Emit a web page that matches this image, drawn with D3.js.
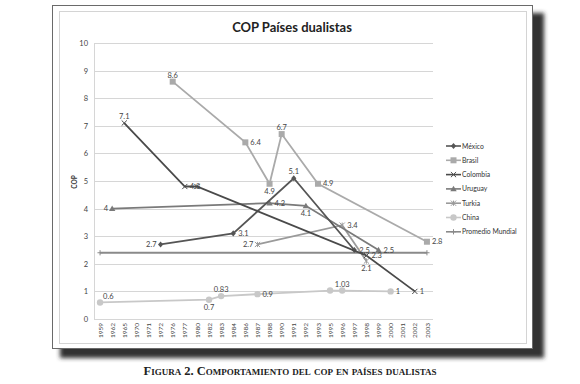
<!DOCTYPE html>
<html>
<head>
<meta charset="utf-8">
<script src="https://cdn.jsdelivr.net/npm/d3@7"></script>
<style>
  body { margin: 0; background: #fff; }
  svg { display: block; }
</style>
</head>
<body>
<div id="chart"></div>
<script>
// categorias del eje X
const years = ['1959','1962','1965','1970','1971','1972','1976','1977','1980','1982','1983','1984','1986','1987',
  '1988','1990','1991','1992','1993','1995','1996','1997','1998','1999','2000','2001','2002','2003'];
const yTicks = [0,1,2,3,4,5,6,7,8,9,10];

// series [año, valor]
const mexico   = [['1972',2.7],['1984',3.1],['1991',5.1],['1997',2.5]];
const brasil   = [['1976',8.6],['1986',6.4],['1988',4.9],['1990',6.7],['1993',4.9],['2003',2.8]];
const colombia = [['1965',7.1],['1977',4.8],['1980',4.8],['1998',2.3],['2002',1]];
const uruguay  = [['1962',4],['1988',4.2],['1992',4.1],['1999',2.5]];
const turkia   = [['1987',2.7],['1996',3.4],['1998',2.1]];
const china    = [['1959',0.6],['1982',0.7],['1983',0.83],['1987',0.9],['1995',1.03],['1996',1.03],['2000',1]];
const promedio = [['1959',2.4],['2003',2.4]];

const seriesNames = ['México','Brasil','Colombia','Uruguay','Turkia','China','Promedio Mundial'];

// posición de las etiquetas (l, r, t, b; '' = sin etiqueta)
const labelPos = {
  'México':   ['l','r','t','r'],
  'Brasil':   ['t','r','b','t','r','r'],
  'Colombia': ['t','r','','r','r'],
  'Uruguay':  ['l','r','b','r'],
  'Turkia':   ['l','r','b'],
  'China':    ['tr','b','t','r','','t','r'],
  'Promedio Mundial': ['','']
};

const styles = [
  { data: mexico,   color: '#555', marker: 'diamond' },
  { data: brasil,   color: '#aaa', marker: 'square' },
  { data: colombia, color: '#4a4a4a', marker: 'cross' },
  { data: uruguay,  color: '#7a7a7a', marker: 'triangle' },
  { data: turkia,   color: '#9a9a9a', marker: 'star' },
  { data: china,    color: '#c8c8c8', marker: 'circle' },
  { data: promedio, color: '#8a8a8a', marker: 'plus' }
];

const W = 580, H = 384;
const svg = d3.select('#chart').append('svg').attr('width', W).attr('height', H);

const defs = svg.append('defs');
const f = defs.append('filter').attr('id', 'shadow').attr('x', '-10%').attr('y', '-10%').attr('width', '130%').attr('height', '130%');
f.append('feGaussianBlur').attr('stdDeviation', 2.2);

// sombra y marco
svg.append('rect').attr('x', 60).attr('y', 13).attr('width', 484).attr('height', 345)
  .attr('fill', '#333').attr('filter', 'url(#shadow)');
svg.append('rect').attr('x', 52.5).attr('y', 5.5).attr('width', 480).attr('height', 343)
  .attr('fill', '#fff').attr('stroke', '#6a6a6a');
svg.append('rect').attr('x', 59.5).attr('y', 11.5).attr('width', 467).attr('height', 332)
  .attr('fill', 'none').attr('stroke', '#d4d4d4');

const x = d3.scalePoint().domain(years).range([94, 433]).padding(0.5);
const y = d3.scaleLinear().domain([0, 10]).range([319, 43]);

const font = 'Lato, "Open Sans", sans-serif';

// titulo
svg.append('text').attr('x', 292).attr('y', 32).attr('text-anchor', 'middle')
  .style('font-family', font).style('font-weight', 'bold').style('font-size', '13px').style('fill', '#222')
  .text('COP Países dualistas');

// rejilla
svg.append('g').selectAll('line').data(yTicks).enter().append('line')
  .attr('x1', 94).attr('x2', 433)
  .attr('y1', d => Math.round(y(d)) + 0.5).attr('y2', d => Math.round(y(d)) + 0.5)
  .attr('stroke', '#d6d6d6').attr('stroke-width', 1);
svg.append('line').attr('x1', 94.5).attr('x2', 94.5).attr('y1', 43).attr('y2', 320)
  .attr('stroke', '#d6d6d6');

// eje Y
const yAxis = svg.append('g').attr('transform', 'translate(94,0)')
  .call(d3.axisLeft(y).tickValues(yTicks).tickSize(0).tickPadding(6));
yAxis.select('.domain').remove();
yAxis.selectAll('text').style('font-family', font).style('font-size', '7.5px').style('fill', '#444');

svg.append('text').attr('transform', 'translate(77,182) rotate(-90)').attr('text-anchor', 'middle')
  .style('font-family', font).style('font-weight', 'bold').style('font-size', '6.5px').style('fill', '#333')
  .text('COP');

// eje X
const xAxis = svg.append('g').attr('transform', 'translate(0,319)')
  .call(d3.axisBottom(x).tickSize(0).tickPadding(4));
xAxis.select('.domain').remove();
xAxis.selectAll('text')
  .attr('transform', 'rotate(-90)').attr('text-anchor', 'end').attr('dx', '-4').attr('dy', '0.32em').attr('y', 0)
  .style('font-family', font).style('font-size', '6.5px').style('fill', '#444');

function drawMarker(g, type, color, cx, cy) {
  const s = 2.6;
  if (type === 'diamond') {
    g.append('path').attr('d', `M${cx},${cy - s - 0.5}L${cx + s},${cy}L${cx},${cy + s + 0.5}L${cx - s},${cy}Z`).attr('fill', color);
  } else if (type === 'square') {
    g.append('rect').attr('x', cx - 3).attr('y', cy - 3).attr('width', 6).attr('height', 6).attr('fill', color);
  } else if (type === 'triangle') {
    g.append('path').attr('d', `M${cx},${cy - 3.2}L${cx + 3.2},${cy + 2.4}L${cx - 3.2},${cy + 2.4}Z`).attr('fill', color);
  } else if (type === 'circle') {
    g.append('circle').attr('cx', cx).attr('cy', cy).attr('r', 3.2).attr('fill', color);
  } else if (type === 'cross') {
    g.append('path').attr('d', `M${cx - s},${cy - s}L${cx + s},${cy + s}M${cx - s},${cy + s}L${cx + s},${cy - s}`)
      .attr('stroke', color).attr('stroke-width', 1);
  } else if (type === 'star') {
    g.append('path').attr('d', `M${cx - s},${cy - s}L${cx + s},${cy + s}M${cx - s},${cy + s}L${cx + s},${cy - s}M${cx},${cy - s}L${cx},${cy + s}`)
      .attr('stroke', color).attr('stroke-width', 1);
  } else if (type === 'plus') {
    g.append('path').attr('d', `M${cx - s},${cy}L${cx + s},${cy}M${cx},${cy - s}L${cx},${cy + s}`)
      .attr('stroke', color).attr('stroke-width', 1);
  }
}

const line = d3.line().x(d => x(d[0])).y(d => y(d[1]));

// orden de dibujo: claros primero
const order = [6, 5, 1, 4, 3, 0, 2];
order.forEach(i => {
  const s = styles[i];
  const g = svg.append('g');
  g.append('path').datum(s.data).attr('d', line).attr('fill', 'none')
    .attr('stroke', s.color).attr('stroke-width', 1.8);
  s.data.forEach(d => drawMarker(g, s.marker, s.color, x(d[0]), y(d[1])));
});

// etiquetas de datos
styles.forEach((s, i) => {
  const pos = labelPos[seriesNames[i]];
  s.data.forEach((d, j) => {
    const p = pos[j];
    if (!p) return;
    const cx = x(d[0]), cy = y(d[1]);
    let tx = cx, ty = cy, anchor = 'middle';
    if (p === 'l') { tx = cx - 4; ty = cy + 2.5; anchor = 'end'; }
    else if (p === 'r') { tx = cx + 5; ty = cy + 2.5; anchor = 'start'; }
    else if (p === 't') { ty = cy - 4; }
    else if (p === 'b') { ty = cy + 10; }
    else if (p === 'tr') { tx = cx + 3; ty = cy - 3.5; anchor = 'start'; }
    svg.append('text').attr('x', tx).attr('y', ty).attr('text-anchor', anchor)
      .style('font-family', font).style('font-size', '7.5px').style('fill', '#444')
      .text(d[1]);
  });
});

// leyenda
const legend = svg.append('g');
seriesNames.forEach((name, i) => {
  const ly = 146 + i * 14.3;
  const s = styles[i];
  legend.append('line').attr('x1', 446).attr('x2', 461).attr('y1', ly).attr('y2', ly)
    .attr('stroke', s.color).attr('stroke-width', 1.6);
  drawMarker(legend, s.marker, s.color, 453.5, ly);
  legend.append('text').attr('x', 462).attr('y', ly + 2.5)
    .style('font-family', font).style('font-size', '6.8px').style('fill', '#333')
    .text(name);
});

// pie de figura
svg.append('text').attr('x', 290).attr('y', 375).attr('text-anchor', 'middle')
  .style('font-family', '"Liberation Serif", "DejaVu Serif", serif').style('font-weight', 'bold')
  .style('font-size', '12.5px').style('font-variant', 'small-caps').style('fill', '#222')
  .text('Figura 2. Comportamiento del cop en países dualistas');
</script>
</body>
</html>
